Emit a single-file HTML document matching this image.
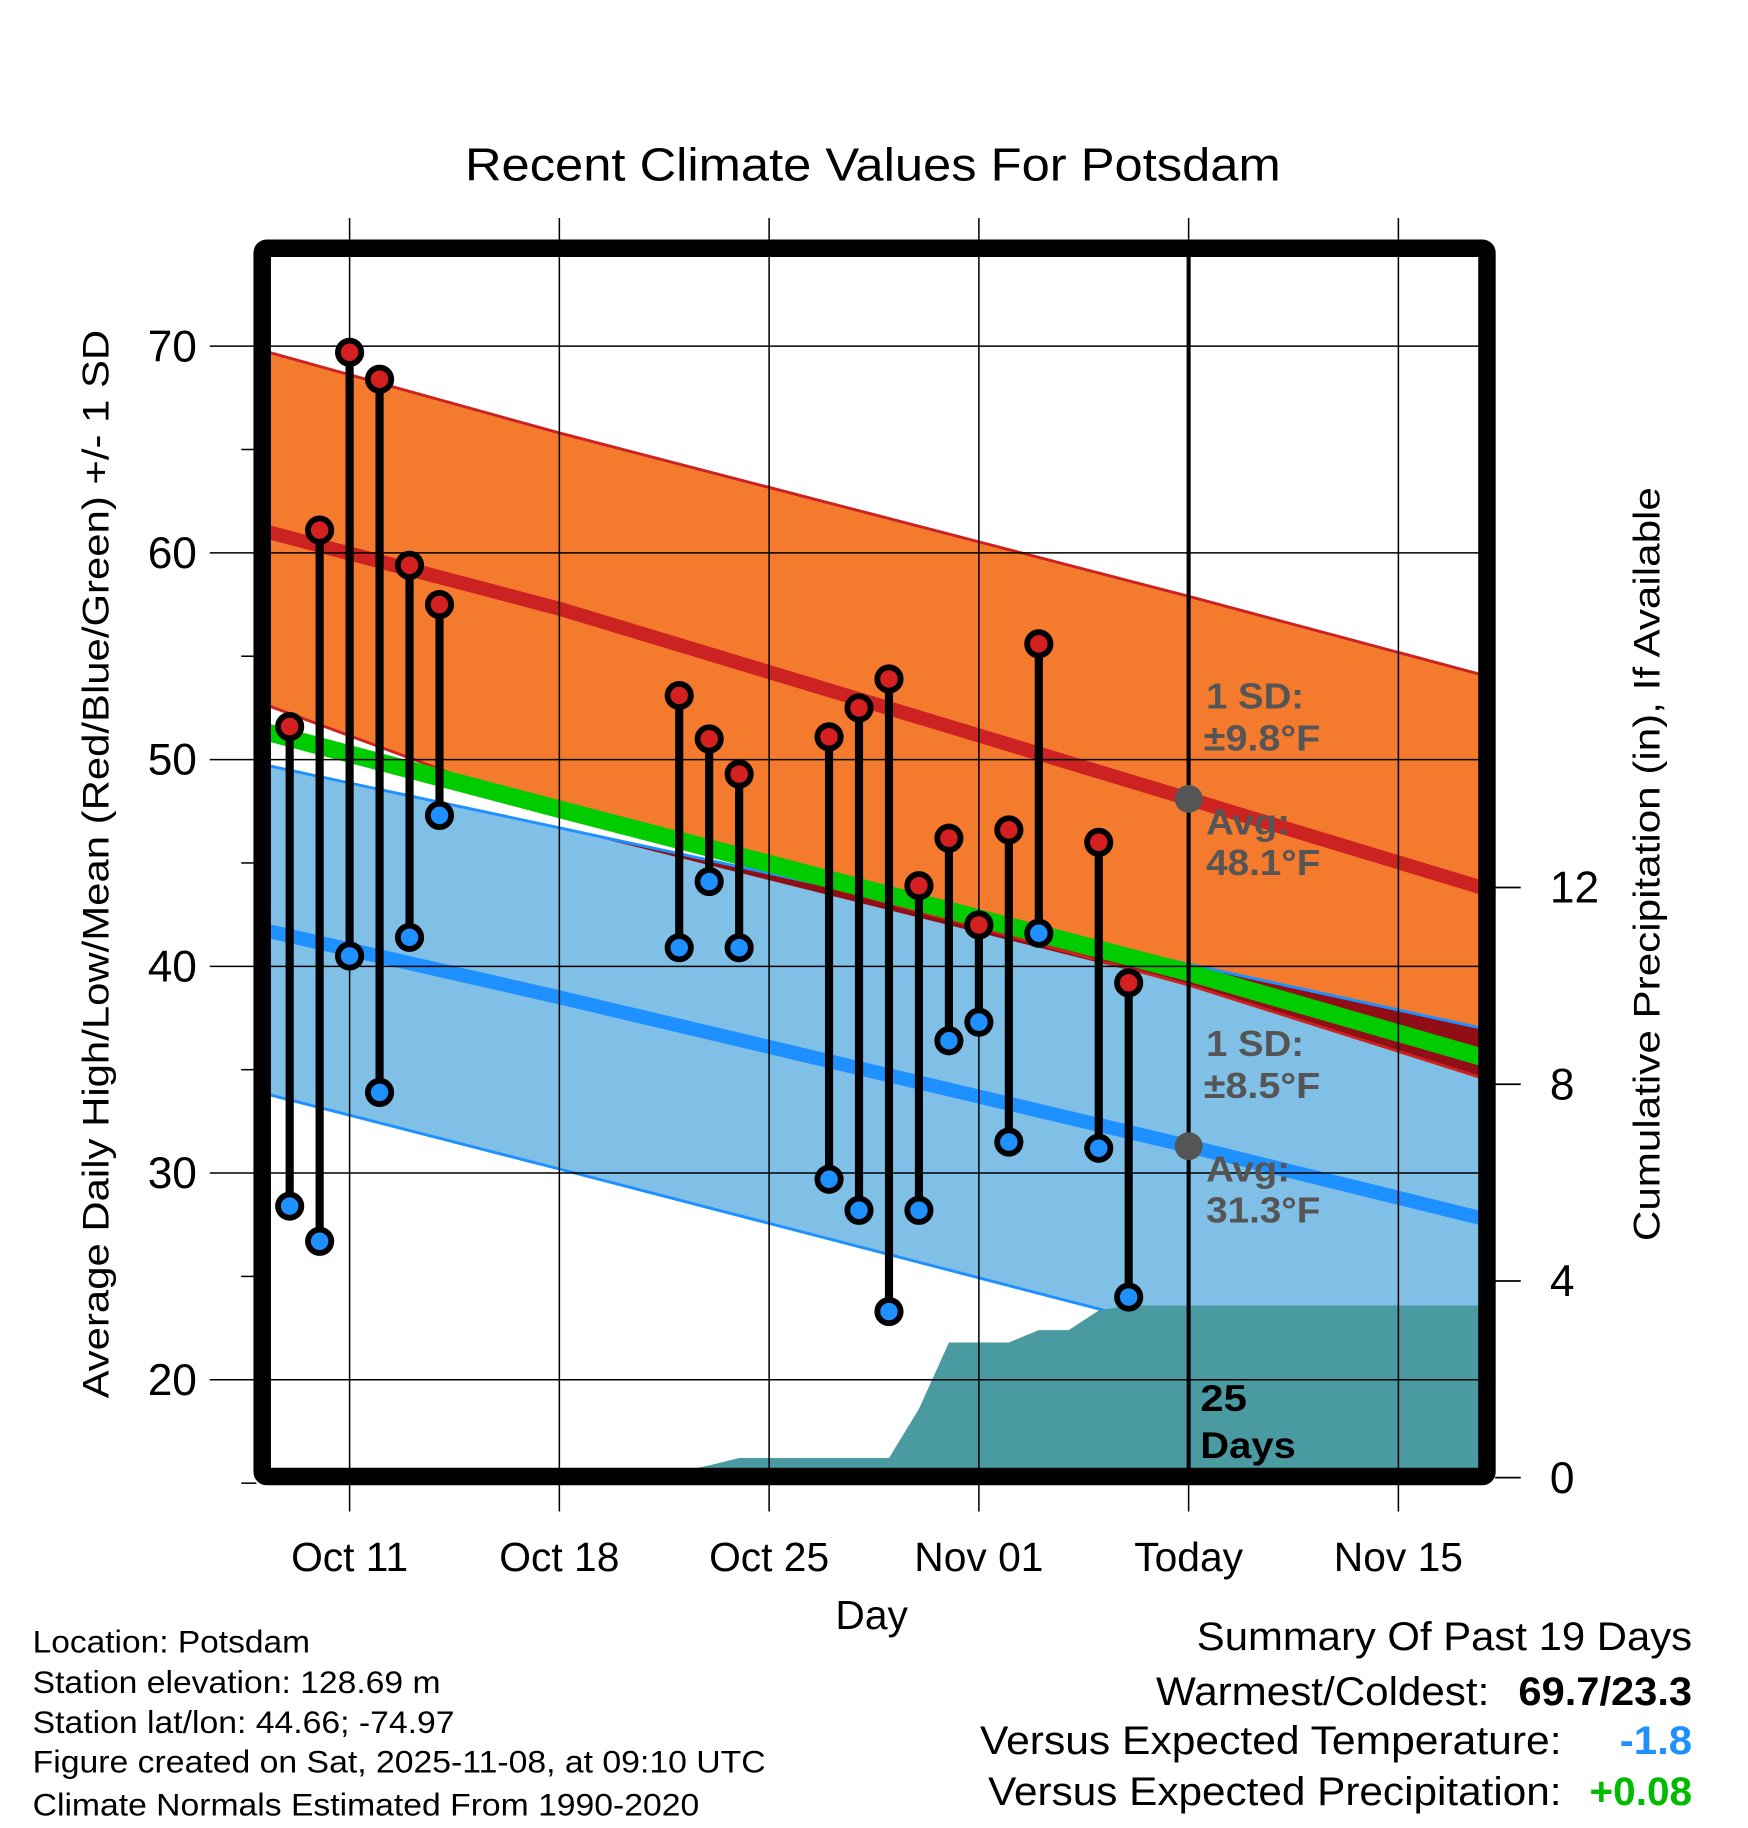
<!DOCTYPE html>
<html><head><meta charset="utf-8"><style>
html,body{margin:0;padding:0;background:#fff;}
svg{display:block;font-family:"Liberation Sans",sans-serif;}
</style></head><body>
<svg id="chart" width="1748" height="1828" viewBox="0 0 1500 1568.6" xmlns="http://www.w3.org/2000/svg">
<defs><clipPath id="plotclip"><rect x="232" y="220" width="1037" height="1040"/></clipPath></defs>
<g id="layers"></g>
</svg>
<script>
// ---- data ----
const obsDays = [-2,-1,0,1,2,3,11,12,13,16,17,18,19,20,21,22,23,25,26];
const obsHighs = [51.6,61.1,69.7,68.4,59.4,57.5,53.1,51.0,49.3,51.1,52.5,53.9,43.9,46.2,42.0,46.6,55.6,46.0,39.2];
const obsLows = [28.4,26.7,40.5,33.9,41.4,47.3,40.9,44.1,40.9,29.7,28.2,23.3,28.2,36.4,37.3,31.5,41.6,31.2,24.0];
const normDays = [-2.7, 7, 28, 37.8];
const avgHigh = [61.0, 57.3, 48.1, 43.8];
const highUpper = [69.7, 65.8, 57.9, 54.1];
const highLower = [52.6, 47.4, 39.1, 34.6];
const avgLow = [41.7, 38.5, 31.3, 27.8];
const lowUpper = [49.7, 46.7, 40.1, 37.0];
const lowLower = [33.8, 30.2, 22.3, 18.8];
const avgMean = [51.3, 47.6, 39.7, 35.6];
const precipDays = [-2.7,10,12,13,18,19,20,22,23,24,25,26,27,37.8];
const precipVals = [0,0,0.25,0.4,0.4,1.4,2.75,2.75,3.0,3.0,3.4,3.5,3.5,3.5];
const xTickDays = [0,7,14,21,28,35];
const xTickLabels = ["Oct 11","Oct 18","Oct 25","Nov 01","Today","Nov 15"];
const yTicks = [20,30,40,50,60,70];
const pTicks = [0,4,8,12];

// ---- axes ----
const X = d => 300 + d*25.714;
const Y = t => 297 + (70 - t)*17.74;
const P = p => 1268 - p*42.2;
const NS = "http://www.w3.org/2000/svg";
const root = document.getElementById('layers');
function mk(tag, attrs, parent, text){
  const e = document.createElementNS(NS, tag);
  for (const k in attrs) e.setAttribute(k, attrs[k]);
  if (text !== undefined) e.textContent = text;
  (parent||root).appendChild(e); return e;
}
function pts(arr){ return normDays.map((d,i)=>X(d).toFixed(1)+","+Y(arr[i]).toFixed(1)); }
function bandPts(up, lo){ return pts(up).concat(pts(lo).reverse()).join(' '); }

const plot = mk('g',{'clip-path':'url(#plotclip)'});



// grid
xTickDays.forEach((d,i)=>{
  const l=mk('line',{x1:X(d),x2:X(d),y1:187,y2:1297,stroke:'#000','stroke-width':1.3});
  
  
});
yTicks.forEach(t=>{
  const l=mk('line',{x1:180,x2:1276,y1:Y(t),y2:Y(t),stroke:'#000','stroke-width':1.3});
  
  
  if (t<70){
    const m=mk('line',{x1:207,x2:220,y1:Y(t+5),y2:Y(t+5),stroke:'#000','stroke-width':1.3});
    
    
  }
});
const m15=mk('line',{x1:207,x2:220,y1:Y(15),y2:Y(15),stroke:'#000','stroke-width':1.3});



// blue band
let e=mk('polygon',{points:bandPts(lowUpper,lowLower),fill:'#80c0e6'},plot);
 
// orange band
e=mk('polygon',{points:bandPts(highUpper,highLower),fill:'#f47a2e'},plot);
 
// overlap: orange region below blue upper edge
{
  const ov=[];
  normDays.forEach((d,i)=>ov.push(X(d).toFixed(1)+","+Y(Math.min(lowUpper[i],highUpper[i])).toFixed(1)));
  const lo=normDays.map((d,i)=>X(d).toFixed(1)+","+Y(Math.min(lowUpper[i],highLower[i])).toFixed(1)).reverse();
  e=mk('polygon',{points:ov.concat(lo).join(' '),fill:'#920e16'},plot);
   
}
// band edges
[[highUpper,'#cc2222','high-upper-edge'],[highLower,'#cc2222','high-lower-edge'],[lowUpper,'#1e90ff','low-upper-edge'],[lowLower,'#1e90ff','low-lower-edge']].forEach(a=>{
  const l=mk('polyline',{points:pts(a[0]).join(' '),fill:'none',stroke:a[1],'stroke-width':2.5},plot);
   
});
// avg lines
e=mk('polyline',{points:pts(avgMean).join(' '),fill:'none',stroke:'#00cc00','stroke-width':15},plot);
 
e=mk('polyline',{points:pts(avgHigh).join(' '),fill:'none',stroke:'#cc2222','stroke-width':12},plot);
 
e=mk('polyline',{points:pts(avgLow).join(' '),fill:'none',stroke:'#1e90ff','stroke-width':12},plot);
 
// precip area
{
  let pp=precipDays.map((d,i)=>X(d).toFixed(1)+","+P(precipVals[i]).toFixed(1));
  pp.push(X(37.8)+","+1270, X(-2.7)+","+1270);
  e=mk('polygon',{points:pp.join(' '),fill:'#4a9aa2'},plot);
   
}
// today line
e=mk('line',{x1:X(28),x2:X(28),y1:220,y2:1262,stroke:'#000','stroke-width':3.5});
 
// today avg dots
e=mk('circle',{cx:X(28),cy:Y(avgHigh[2]),r:12,fill:'#555'});
 
e=mk('circle',{cx:X(28),cy:Y(avgLow[2]),r:12,fill:'#555'});
 

// observations
obsDays.forEach((d,i)=>{
  const g=mk('g',{});
  
  
  mk('line',{x1:X(d),x2:X(d),y1:Y(obsHighs[i]),y2:Y(obsLows[i]),stroke:'#000','stroke-width':7},g);
  const h=mk('circle',{cx:X(d),cy:Y(obsHighs[i]),r:10,fill:'#d42020',stroke:'#000','stroke-width':5},g);
   
  const l=mk('circle',{cx:X(d),cy:Y(obsLows[i]),r:10,fill:'#1e90ff',stroke:'#000','stroke-width':5},g);
   
});

// frame
e=mk('rect',{x:225,y:213,width:1051,height:1054,fill:'none',stroke:'#000','stroke-width':15,rx:4});
 

// tick labels
xTickDays.forEach((d,i)=>{
  const t=mk('text',{x:X(d),y:1348,'font-size':35,'text-anchor':'middle'},root,xTickLabels[i]);
  
  
});
yTicks.forEach(v=>{
  const t=mk('text',{x:169,y:Y(v)+13,'font-size':38,'text-anchor':'end'},root,String(v));
  
  
});
pTicks.forEach(v=>{
  const l=mk('line',{x1:1283,x2:1305,y1:P(v),y2:P(v),stroke:'#000','stroke-width':1.5});
  
  
  const t=mk('text',{x:1330,y:P(v)+13,'font-size':38,'text-anchor':'start'},root,String(v));
  
  
});
</script>
<script>
(function(){
const NS="http://www.w3.org/2000/svg", svg=document.getElementById('chart');
function T(name,x,y,size,txt,opts){
  const t=document.createElementNS(NS,'text');
  t.setAttribute('x',x); t.setAttribute('y',y); t.setAttribute('font-size',size);
  for(const k in (opts||{})) t.setAttribute(k,opts[k]);
  t.textContent=txt;
  
  
  svg.appendChild(t); return t;
}
T('chart-title',399,155,40,'Recent Climate Values For Potsdam',{textLength:700,lengthAdjust:'spacingAndGlyphs'});
T('y-axis-title',0,0,32,'Average Daily High/Low/Mean (Red/Blue/Green) +/- 1 SD',{transform:'translate(93,1200) rotate(-90)',textLength:917,lengthAdjust:'spacingAndGlyphs'});
T('y2-axis-title',0,0,32,'Cumulative Precipitation (in), If Available',{transform:'translate(1424,1065) rotate(-90)',textLength:647,lengthAdjust:'spacingAndGlyphs'});
T('x-axis-title',748,1398,35,'Day',{'text-anchor':'middle'});
const g={fill:'#555','font-weight':'bold','font-size':31,lengthAdjust:'spacingAndGlyphs'};
function G(name,x,y,txt,w){ const o=Object.assign({textLength:w},g); return T(name,x,y,31,txt,o); }
G('high-sd-label',1035,608,'1 SD:',84);
G('high-sd-value',1033,644,'±9.8°F',100);
G('avg-high-label',1035,716,'Avg:',72);
G('avg-high-value',1035,751,'48.1°F',98);
G('low-sd-label',1035,906,'1 SD:',84);
G('low-sd-value',1033,942,'±8.5°F',100);
G('avg-low-label',1035,1014,'Avg:',72);
G('avg-low-value',1035,1049,'31.3°F',98);
T('days-count',1030,1211,32,'25',{'font-weight':'bold',textLength:40,lengthAdjust:'spacingAndGlyphs'});
T('days-label',1030,1251,32,'Days',{'font-weight':'bold',textLength:82,lengthAdjust:'spacingAndGlyphs'});
const L=[['Location: Potsdam',1418,238],['Station elevation: 128.69 m',1453,350],['Station lat/lon: 44.66; -74.97',1487,362],['Figure created on Sat, 2025-11-08, at 09:10 UTC',1521,629],['Climate Normals Estimated From 1990-2020',1558,572]];
L.forEach((l,i)=>T('footer-line-'+(i+1),28,l[1],27,l[0],{textLength:l[2],lengthAdjust:'spacingAndGlyphs'}));
T('summary-title',1027,1416,34,'Summary Of Past 19 Days',{textLength:425,lengthAdjust:'spacingAndGlyphs'});
T('warmest-coldest-label',992,1463,34,'Warmest/Coldest:',{textLength:286,lengthAdjust:'spacingAndGlyphs'});
T('warmest-coldest-value',1303,1463,34,'69.7/23.3',{'font-weight':'bold',textLength:149,lengthAdjust:'spacingAndGlyphs'});
T('temp-anomaly-label',841,1505,34,'Versus Expected Temperature:',{textLength:499,lengthAdjust:'spacingAndGlyphs'});
T('temp-anomaly-value',1390,1505,34,'-1.8',{'font-weight':'bold',fill:'#1e90ff',textLength:62,lengthAdjust:'spacingAndGlyphs'});
T('precip-anomaly-label',848,1549,34,'Versus Expected Precipitation:',{textLength:492,lengthAdjust:'spacingAndGlyphs'});
T('precip-anomaly-value',1364,1549,34,'+0.08',{'font-weight':'bold',fill:'#00bb00',textLength:88,lengthAdjust:'spacingAndGlyphs'});
})();
</script>
</body></html>
